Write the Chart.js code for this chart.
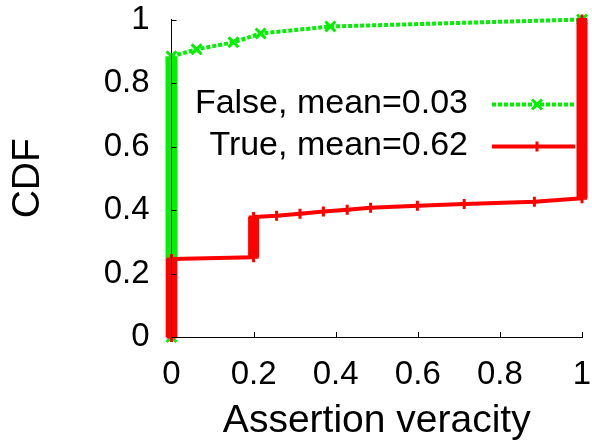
<!DOCTYPE html>
<html><head><meta charset="utf-8">
<script src="https://cdn.jsdelivr.net/npm/chart.js"></script>
<style>html,body{margin:0;padding:0;background:#fff}canvas{display:block}</style>
</head><body>
<canvas id="c" width="592" height="446"></canvas>
<script>
// ---- data ----
const falseX = [0, 0, 0.061, 0.151, 0.217, 0.387, 1.0];
const falseY = [0, 0.884, 0.906, 0.928, 0.956, 0.978, 1.0];
const trueX = [0, 0, 0.2, 0.2, 0.256, 0.313, 0.370, 0.428, 0.485, 0.599, 0.713, 0.884, 1.0, 1.0];
const trueY = [0, 0.246, 0.251, 0.378, 0.382, 0.388, 0.395, 0.401, 0.407, 0.413, 0.419, 0.426, 0.437, 1.0];
const seriesLabels = ['False, mean=0.03', 'True, mean=0.62'];
const xTicks = [0, 0.2, 0.4, 0.6, 0.8, 1];
const yTicks = [0, 0.2, 0.4, 0.6, 0.8, 1];
const xTitle = 'Assertion veracity';
const yTitle = 'CDF';

const FONT = "'Liberation Sans', Arial, Helvetica, sans-serif";
const GREEN = '#00f000';
const RED = '#ff0000';

const toPts = (xs, ys) => xs.map((x, i) => ({x: x, y: ys[i]}));
const isVertical = ctx => Math.abs(ctx.p0.x - ctx.p1.x) < 0.5;
const noPad = s => { s.paddingLeft = 0; s.paddingRight = 0; s.paddingTop = 0; s.paddingBottom = 0; };

const inwardTicks = {
  id: 'inwardTicks',
  afterDatasetsDraw(chart) {
    const {ctx, chartArea, scales} = chart;
    const x = scales.x, y = scales.y;
    ctx.save();
    ctx.strokeStyle = '#000';
    ctx.lineWidth = 1;
    ctx.beginPath();
    xTicks.forEach(v => {
      if (v === xTicks[0]) return;
      const px = Math.round(x.getPixelForValue(v)) + 0.5;
      ctx.moveTo(px, chartArea.bottom);
      ctx.lineTo(px, chartArea.bottom - 5);
    });
    yTicks.forEach(v => {
      if (v === yTicks[0]) return;
      const py = Math.round(y.getPixelForValue(v)) + 0.5;
      ctx.moveTo(chartArea.left, py);
      ctx.lineTo(chartArea.left + 5, py);
    });
    ctx.stroke();
    ctx.restore();
  }
};

function drawMarker(ctx, style, cx, cy, r, color, w) {
  ctx.save();
  ctx.strokeStyle = color;
  ctx.lineWidth = w;
  ctx.setLineDash([]);
  ctx.beginPath();
  if (style === 'cross') {
    ctx.moveTo(cx - r, cy); ctx.lineTo(cx + r, cy);
    ctx.moveTo(cx, cy - r); ctx.lineTo(cx, cy + r);
  } else {
    const d = r * Math.SQRT1_2;
    ctx.moveTo(cx - d, cy - d); ctx.lineTo(cx + d, cy + d);
    ctx.moveTo(cx - d, cy + d); ctx.lineTo(cx + d, cy - d);
  }
  ctx.stroke();
  ctx.restore();
}

const keyPlugin = {
  id: 'gnuKey',
  afterDatasetsDraw(chart) {
    const {ctx, chartArea} = chart;
    const right = chartArea.right;
    const rows = [chartArea.top + 85, chartArea.top + 127];
    chart.data.datasets.forEach((ds, i) => {
      const yy = rows[i];
      ctx.save();
      ctx.font = '34px ' + FONT;
      ctx.fillStyle = '#000';
      ctx.textAlign = 'right';
      ctx.textBaseline = 'middle';
      ctx.fillText(ds.label, right - 114, yy - 1);
      ctx.strokeStyle = ds.borderColor;
      ctx.lineWidth = 4;
      ctx.setLineDash(ds.keyDash);
      ctx.beginPath();
      ctx.moveTo(right - 90, yy);
      ctx.lineTo(right - 7, yy);
      ctx.stroke();
      ctx.restore();
      drawMarker(ctx, ds.pointStyle, right - 45, yy, ds.pointStyle === 'cross' ? 5 : 7, ds.borderColor, 3);
    });
  }
};

new Chart(document.getElementById('c'), {
  type: 'line',
  data: {
    datasets: [
      {
        label: seriesLabels[0],
        data: toPts(falseX, falseY),
        borderColor: GREEN,
        borderWidth: 4,
        borderDash: [4, 2],
        keyDash: [4, 2],
        pointStyle: 'crossRot',
        pointRadius: 7,
        pointBorderWidth: 3,
        pointBorderColor: GREEN,
        pointBackgroundColor: GREEN,
        clip: false,
        order: 1,
        segment: {
          borderWidth: c => isVertical(c) ? 12 : 4,
          borderDash: c => isVertical(c) ? [] : [4, 2]
        }
      },
      {
        label: seriesLabels[1],
        data: toPts(trueX, trueY),
        borderColor: RED,
        borderWidth: 4,
        keyDash: [],
        pointStyle: 'cross',
        pointRadius: 5,
        pointBorderWidth: 3,
        pointBorderColor: RED,
        pointBackgroundColor: RED,
        clip: false,
        order: 0,
        segment: {
          borderWidth: c => isVertical(c) ? 11 : 4
        }
      }
    ]
  },
  options: {
    responsive: false,
    animation: false,
    devicePixelRatio: 1,
    layout: {padding: {top: 19.5, right: 10, left: 0, bottom: 0}},
    plugins: {legend: {display: false}, tooltip: {enabled: false}},
    elements: {line: {tension: 0, borderCapStyle: 'butt', borderJoinStyle: 'miter'}},
    scales: {
      x: {
        type: 'linear',
        min: 0, max: 1,
        afterBuildTicks: s => { s.ticks = xTicks.map(v => ({value: v})); },
        afterFit: s => { s.height = 109; noPad(s); },
        grid: {display: false, drawTicks: false},
        border: {display: true, color: '#000', width: 1, z: 1},
        ticks: {color: '#000', font: {family: FONT, size: 33}, padding: 18, maxRotation: 0, autoSkip: false,
                callback: v => String(+v.toFixed(1))},
        title: {display: true, text: xTitle, color: '#000', font: {family: FONT, size: 39}, padding: {top: 0, bottom: 1}}
      },
      y: {
        type: 'linear',
        min: 0, max: 1,
        afterBuildTicks: s => { s.ticks = yTicks.map(v => ({value: v})); },
        afterFit: s => { s.width = 171.5; noPad(s); },
        grid: {display: false, drawTicks: false},
        border: {display: true, color: '#000', width: 1, z: 1},
        ticks: {color: '#000', font: {family: FONT, size: 33}, padding: 22, autoSkip: false,
                callback: v => String(+v.toFixed(1))},
        title: {display: true, text: yTitle, color: '#000', font: {family: FONT, size: 39}, padding: {top: 5, bottom: 0}}
      }
    }
  },
  plugins: [inwardTicks, keyPlugin]
});
</script>
</body></html>
